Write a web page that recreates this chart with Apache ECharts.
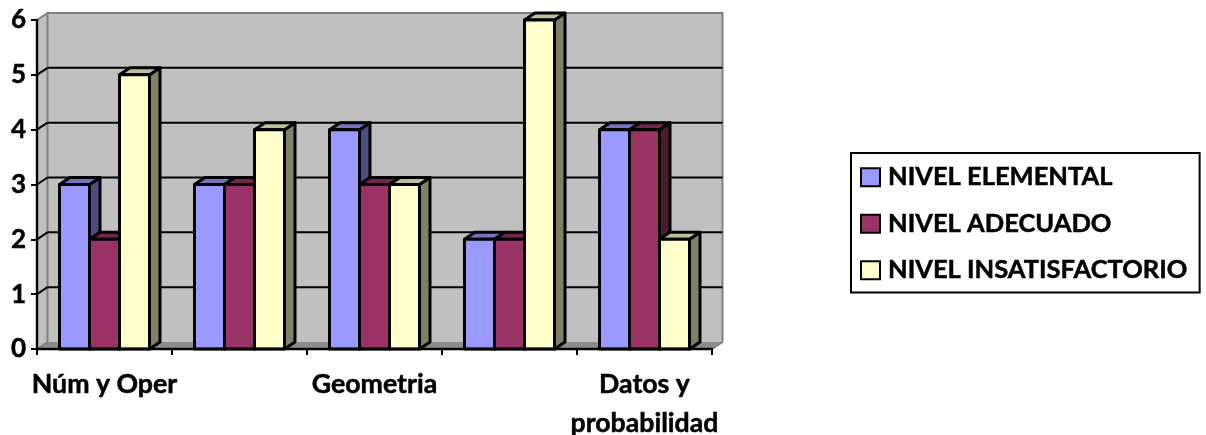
<!DOCTYPE html>
<html><head><meta charset="utf-8">
<style>html,body{margin:0;padding:0;background:#fff}#c{width:1206px;height:435px}</style>
<script src="https://cdn.jsdelivr.net/npm/echarts@6/dist/echarts.min.js"></script>
</head><body><div id="c"></div>
<script>
var categories = ['Núm y Oper', '', 'Geometria', '', 'Datos y\nprobabilidad'];
var yTicks = [0, 1, 2, 3, 4, 5, 6];
var nivelElemental = [3, 3, 4, 2, 4];
var nivelAdecuado = [2, 3, 3, 2, 4];
var nivelInsatisfactorio = [5, 4, 3, 6, 2];
var names = ['NIVEL ELEMENTAL', 'NIVEL ADECUADO', 'NIVEL INSATISFACTORIO'];
var front = ['#9999FF', '#993366', '#FFFFCC'];
var top3d = ['#7373BF', '#732650', '#BFBF99'];
var side = ['#4D4D80', '#4D1A33', '#808066'];
var DX = 10.5, DY = -7, BAR_FRAC = 30 / 135, INK = '#000';
var FONT = 'Lato';

function wall(params, api) {
  var g = params.coordSys, l = g.x, r = g.x + g.width, b = g.y + g.height, t = g.y;
  var kids = [
    {type:'polygon', shape:{points:[[l,b],[l+DX,b+DY],[l+DX,t+DY],[l,t]]}, style:{fill:'#C0C0C0'}},
    {type:'rect', shape:{x:l+DX,y:t+DY,width:g.width,height:g.height}, style:{fill:'#C0C0C0'}},
    {type:'polygon', shape:{points:[[l,b],[l+DX,b+DY],[r+DX,b+DY],[r,b]]}, style:{fill:'#8C8C8C'}},
    {type:'polyline', shape:{points:[[l+DX,b+DY],[l+DX,t+DY],[r+DX,t+DY],[r+DX,b+DY],[r,b]]}, style:{fill:null,stroke:'#808080',lineWidth:2}},
    {type:'line', shape:{x1:l,y1:t,x2:l+DX,y2:t+DY}, style:{stroke:'#808080',lineWidth:2}}
  ];
  yTicks.forEach(function (v) {
    var y = api.coord([0, v])[1];
    if (v > 0 && v < 6) {
      kids.push({type:'line', shape:{x1:l+DX,y1:y+DY,x2:r+DX,y2:y+DY}, style:{stroke:INK,lineWidth:2}});
    }
    if (v < 6) kids.push({type:'line', shape:{x1:l,y1:y,x2:l+DX,y2:y+DY}, style:{stroke:v===0?'#808080':INK,lineWidth:2}});
  });
  return {type:'group', children:kids};
}
function bar(idx) {
  return function (params, api) {
    var p0 = api.coord([api.value(0), 0]), p1 = api.coord([api.value(0), api.value(1)]);
    var w = api.size([1, 0])[0] * BAR_FRAC;
    var x = p0[0] + (idx - 1.5) * w, yB = p0[1], yT = p1[1];
    function st(f){ return {fill:f, stroke:INK, lineWidth:3, lineJoin:'round'}; }
    return {type:'group', children:[
      {type:'polygon', shape:{points:[[x+w,yT],[x+w+DX,yT+DY],[x+w+DX,yB+DY],[x+w,yB]]}, style:st(side[idx])},
      {type:'polygon', shape:{points:[[x,yT],[x+DX,yT+DY],[x+w+DX,yT+DY],[x+w,yT]]}, style:st(top3d[idx])},
      {type:'rect', shape:{x:x,y:yT,width:w,height:yB-yT}, style:st(front[idx])}
    ]};
  };
}
function seriesOf(idx, vals) {
  return {name:names[idx], type:'custom', z:3+idx, clip:false, silent:true,
    itemStyle:{color:front[idx]}, encode:{x:0,y:1},
    renderItem:bar(idx), data:vals.map(function (v,i){return [i,v];})};
}
var chart = echarts.init(document.getElementById('c'), null, {renderer:'canvas'});
chart.setOption({
  animation:false,
  backgroundColor:'#fff',
  grid:{left:37, right:494, top:20, bottom:86, containLabel:false, outerBoundsMode:'none'},
  legend:{orient:'vertical', left:851, top:153, padding:[11,12,9,9], itemGap:20, itemWidth:19, itemHeight:18,
    icon:'rect', backgroundColor:'#fff', borderColor:INK, borderWidth:2, selectedMode:false,
    data:names, itemStyle:{borderColor:INK,borderWidth:2},
    textStyle:{fontFamily:FONT,fontWeight:'bold',fontSize:25.5,color:INK,padding:[0,0,0,3],textBorderColor:INK,textBorderWidth:0.5}},
  xAxis:{type:'category', data:categories, z:8,
    axisLine:{onZero:false,lineStyle:{color:INK,width:2.4}},
    axisTick:{show:true,alignWithLabel:false,length:6,lineStyle:{color:INK,width:2}},
    axisLabel:{interval:0,margin:16,lineHeight:39,fontFamily:FONT,fontWeight:'bold',fontSize:26.7,color:INK,align:'center',verticalAlign:'top',textBorderColor:INK,textBorderWidth:0.5},
    splitLine:{show:false}},
  yAxis:{type:'value', min:0, max:6, interval:1, z:8,
    axisLine:{show:true,lineStyle:{color:INK,width:2.4}},
    axisTick:{show:true,length:6,lineStyle:{color:INK,width:2}},
    axisLabel:{margin:11,fontFamily:FONT,fontWeight:'bold',fontSize:26,color:INK,textBorderColor:INK,textBorderWidth:0.5},
    splitLine:{show:false}},
  series:[
    {type:'custom', name:'wall', z:1, clip:false, silent:true, encode:{x:0,y:1}, renderItem:wall, data:[[0,0]]},
    seriesOf(0,nivelElemental), seriesOf(1,nivelAdecuado), seriesOf(2,nivelInsatisfactorio)
  ]
});
</script></body></html>
